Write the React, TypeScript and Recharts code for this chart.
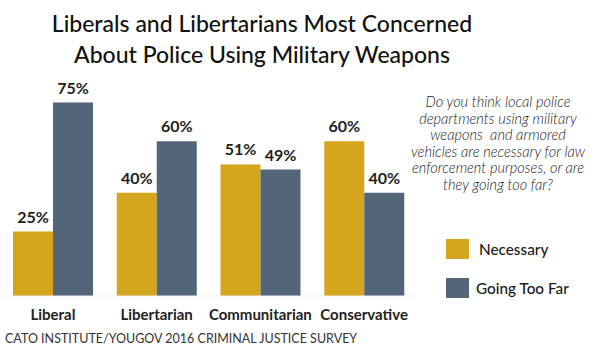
import React from "react";
import { BarChart, Bar, XAxis, YAxis, LabelList } from "recharts";

const categories = ["Liberal", "Libertarian", "Communitarian", "Conservative"];
const necessary = [25, 40, 51, 60];
const goingTooFar = [75, 60, 49, 40];
const seriesNames = ["Necessary", "Going Too Far"];
const titleLines = [
  "Liberals and Libertarians Most Concerned",
  "About Police Using Military Weapons",
];
const questionLines = [
  "Do you think local police",
  "departments using military",
  "weapons  and armored",
  "vehicles are necessary for law",
  "enforcement purposes, or are",
  "they going too far?",
];
const sourceText = "CATO INSTITUTE/YOUGOV 2016 CRIMINAL JUSTICE SURVEY";

const GOLD = "#D6A51E";
const SLATE = "#536579";

const data = categories.map((c, i) => ({
  name: c,
  necessary: necessary[i],
  tooFar: goingTooFar[i],
}));

const ValueLabel = (props: any) => {
  const { x, y, width, value } = props;
  return (
    <text
      x={x + width / 2}
      y={y - 9}
      textAnchor="middle"
      fontFamily="Lato"
      fontWeight={700}
      fontSize={16}
      fill="#1e1e1e"
    >
      {value}%
    </text>
  );
};

const CatTick = (props: any) => {
  const { x, y, payload } = props;
  return (
    <text
      x={x}
      y={y + 16}
      textAnchor="middle"
      fontFamily="Lato"
      fontWeight={700}
      fontSize={15}
      fill="#222"
    >
      {payload.value}
    </text>
  );
};

const LegendBox = () => {
  const colors = [GOLD, SLATE];
  return (
    <div style={{ position: "absolute", left: 446, top: 239, width: 150, height: 70 }}>
      {seriesNames.map((n, i) => (
        <div
          key={n}
          style={{
            position: "absolute",
            left: 0,
            top: i * 39,
            display: "flex",
            alignItems: "center",
          }}
        >
          <div style={{ width: 23, height: 20, background: colors[i] }} />
          <div
            style={{
              marginLeft: i === 0 ? 10 : 7,
              fontFamily: "Lato",
              fontSize: 15.3,
              fontWeight: 500,
              color: "#1a1a1a",
              lineHeight: "20px",
            }}
          >
            {n}
          </div>
        </div>
      ))}
    </div>
  );
};

export default function App() {
  return (
    <div style={{ position: "absolute", left: 0, top: 0, width: 600, height: 350, background: "#fff" }}>
      <BarChart
        width={600}
        height={350}
        data={data}
        margin={{ top: 38, right: 184, bottom: 0, left: 1 }}
        barGap={0}
        barSize={40}
      >
        <YAxis hide domain={[0, 100]} />
        <XAxis
          dataKey="name"
          height={54}
          tickLine={false}
          axisLine={{ stroke: "#eeeeee" }}
          tick={<CatTick />}
          interval={0}
        />
        <Bar dataKey="necessary" name={seriesNames[0]} fill={GOLD} isAnimationActive={false}>
          <LabelList dataKey="necessary" content={<ValueLabel />} />
        </Bar>
        <Bar dataKey="tooFar" name={seriesNames[1]} fill={SLATE} isAnimationActive={false}>
          <LabelList dataKey="tooFar" content={<ValueLabel />} />
        </Bar>
      </BarChart>
      <LegendBox />
      <svg
        width={600}
        height={350}
        style={{ position: "absolute", left: 0, top: 0, pointerEvents: "none" }}
      >
        {titleLines.map((t, i) => (
          <text
            key={t}
            x={262}
            y={32 + i * 31}
            textAnchor="middle"
            fontFamily="Lato"
            fontWeight={500}
            fontSize={23}
            fill="#111"
          >
            {t}
          </text>
        ))}
        {questionLines.map((t, i) => (
          <text
            key={i}
            x={498}
            y={107 + i * 16.6}
            textAnchor="middle"
            fontFamily="Lato"
            fontStyle="italic"
            fontWeight={300}
            fontSize={14.6}
            fill="#222"
            style={{ whiteSpace: "pre" }}
          >
            {t}
          </text>
        ))}
        <text x={5} y={343} fontFamily="Lato" fontSize={12.5} fill="#333">
          {sourceText}
        </text>
      </svg>
    </div>
  );
}
